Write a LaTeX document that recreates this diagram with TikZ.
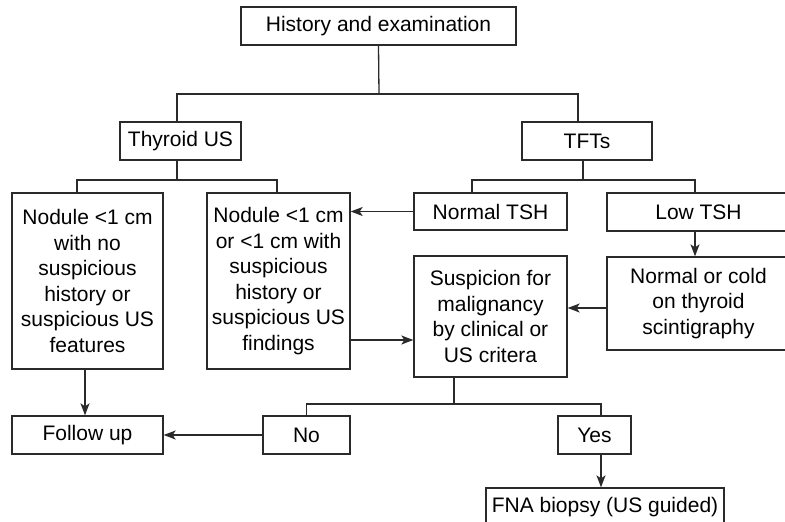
\documentclass[tikz,border=0pt]{standalone}
\usepackage{fontspec}
\setmainfont{Liberation Sans}
\usetikzlibrary{arrows.meta}
\definecolor{ink}{HTML}{2A2A2A}
\tikzset{
  box/.style={draw=ink, line width=1.3pt, inner sep=0pt, align=center,
    text=black, font=\fontsize{21pt}{25.5pt}\selectfont},
  conn/.style={draw=ink, line width=1.3pt},
  arr/.style={conn, -{Stealth[length=12pt,width=9pt,inset=3pt]}}
}
\begin{document}
\begin{tikzpicture}[x=1pt,y=-1pt]
\useasboundingbox (0,0) rectangle (785,522);
% boxes
\node[box, minimum width=275pt, minimum height=38pt] (hist) at (378.5,26) {History and examination};
\node[box, minimum width=121pt, minimum height=38pt] (thy) at (180.5,141) {Thyroid US};
\node[box, minimum width=130pt, minimum height=38pt] (tft) at (587,141) {TFTs};
\node[box, minimum width=151pt, minimum height=176pt] (nod1) at (87.5,281)
  {Nodule <1 cm\\with no\\suspicious\\history or\\suspicious US\\features};
\node[box, minimum width=143pt, minimum height=176pt] (nod2) at (278.5,281)
  {Nodule <1 cm\\or <1 cm with\\suspicious\\history or\\suspicious US\\findings};
\node[box, minimum width=153pt, minimum height=37pt] (ntsh) at (490.5,211.5) {Normal TSH};
\node[box, minimum width=183pt, minimum height=38pt] (ltsh) at (698.5,212) {Low TSH};
\node[box, minimum width=183pt, minimum height=93pt] (cold) at (698.5,303.5)
  {Normal or cold\\on thyroid\\scintigraphy};
\node[box, minimum width=153pt, minimum height=121pt] (susp) at (490.5,316.5)
  {Suspicion for\\malignancy\\by clinical or\\US critera};
\node[box, minimum width=151pt, minimum height=38pt] (fup) at (87.5,435) {Follow up};
\node[box, minimum width=87pt, minimum height=38pt] (no) at (306.5,435) {No};
\node[box, minimum width=73pt, minimum height=38pt] (yes) at (594.5,435) {Yes};
\node[box, minimum width=238pt, minimum height=38pt] (fna) at (605,507) {FNA biopsy (US guided)};
% junctions
\coordinate (j1) at (379,94);
\coordinate (j2) at (177,180);
\coordinate (j3) at (583,180);
\coordinate (j4) at (454,404);
% connectors
\draw[conn] (hist.south) -- (j1);
\draw[conn] ([xshift=-3.5pt]thy.north) |- (j1) -| ([xshift=-9pt]tft.north);
\draw[conn] ([xshift=-3.5pt]thy.south) -- (j2);
\draw[conn] ([xshift=-10.5pt]nod1.north) |- (j2) -| ([xshift=-1.5pt]nod2.north);
\draw[conn] ([xshift=-4pt]tft.south) -- (j3);
\draw[conn] ([xshift=-18.5pt]ntsh.north) |- (j3) -| ([xshift=-3.5pt]ltsh.north);
\draw[arr] ([xshift=-3.5pt]ltsh.south) -- ([xshift=-3.5pt]cold.north);
\draw[arr] (ntsh.west) -- (ntsh.west -| nod2.east);
\draw[arr] ([yshift=-59pt]nod2.east) -- ([yshift=-59pt]nod2.east -| susp.west);
\draw[arr] ([yshift=-4.5pt]cold.west) -- ([yshift=-4.5pt]cold.west -| susp.east);
\draw[conn] ([xshift=-36.5pt]susp.south) -- (j4);
\draw[conn] (no.north) |- (j4) -| ([xshift=6.5pt]yes.north);
\draw[arr] (no.west) -- (fup.east);
\draw[arr] ([xshift=-2.5pt]nod1.south) -- ([xshift=-2.5pt]fup.north);
\draw[arr] ([xshift=6.5pt]yes.south) -- ([xshift=6.5pt]yes.south |- fna.north);
\end{tikzpicture}
\end{document}
